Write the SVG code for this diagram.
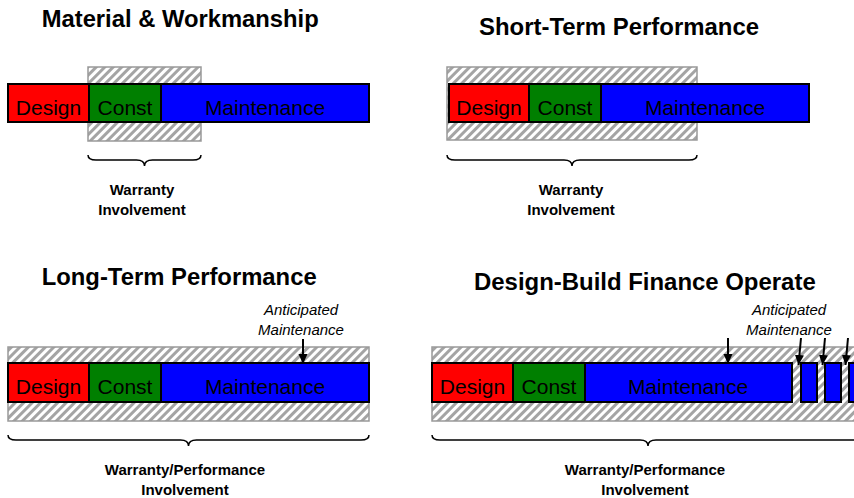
<svg xmlns="http://www.w3.org/2000/svg" width="854" height="498" viewBox="0 0 854 498">
<style>
.title{font-family:"Liberation Sans",Arial,sans-serif;font-weight:bold;font-size:23.5px;fill:#000}
.lbl{font-family:"Liberation Sans",Arial,sans-serif;font-size:21px;fill:#000;text-anchor:middle}
.inv{font-family:"Liberation Sans",Arial,sans-serif;font-weight:bold;font-size:15px;fill:#000;text-anchor:middle}
.ant{font-family:"Liberation Sans",Arial,sans-serif;font-style:italic;font-size:15px;fill:#000;text-anchor:middle}
.hatch{fill:url(#hatch);stroke:#999;stroke-width:1.5}
.bar{stroke:#000;stroke-width:2}
.d{fill:#ff0000}.c{fill:#007f00}.m{fill:#0000ff}
.brace{fill:none;stroke:#000;stroke-width:1.5}
.arr{stroke:#000;stroke-width:2;fill:none;marker-end:url(#ah)}
</style>
<defs>
<pattern id="hatch" patternUnits="userSpaceOnUse" width="6" height="6" patternTransform="rotate(45)">
<rect width="6" height="6" fill="#fff"/>
<line x1="1.5" y1="0" x2="1.5" y2="6" stroke="#a4a4a4" stroke-width="3"/>
</pattern>
<marker id="ah" markerUnits="userSpaceOnUse" markerWidth="11" markerHeight="10" refX="10" refY="4.5" orient="auto">
<path d="M0,0 L10,4.5 L0,9 Z" fill="#000"/>
</marker>
</defs>

<g id="panel1">
<text class="title" x="41.7" y="26.5" textLength="277" lengthAdjust="spacingAndGlyphs">Material &amp; Workmanship</text>
<rect class="hatch" x="88" y="67" width="113" height="74"/>
<g id="p1-design"><rect class="bar d" x="8" y="84" width="81" height="38"/><text class="lbl" x="48.5" y="115">Design</text></g>
<g id="p1-const"><rect class="bar c" x="89" y="84" width="72" height="38"/><text class="lbl" x="125" y="115">Const</text></g>
<g id="p1-maint"><rect class="bar m" x="161" y="84" width="208" height="38"/><text class="lbl" x="265" y="115">Maintenance</text></g>
<path class="brace" d="M88,155 Q88,160 96,160 L136.5,160 Q144.5,160 144.5,166 Q144.5,160 152.5,160 L193,160 Q201,160 201,155"/>
<text class="inv" x="142" y="194.5">Warranty</text>
<text class="inv" x="142" y="215">Involvement</text>
</g>

<g id="panel2">
<text class="title" x="479" y="35" textLength="280" lengthAdjust="spacingAndGlyphs">Short-Term Performance</text>
<rect class="hatch" x="447" y="67" width="250" height="73"/>
<g id="p2-design"><rect class="bar d" x="449" y="84" width="80" height="38"/><text class="lbl" x="489" y="115">Design</text></g>
<g id="p2-const"><rect class="bar c" x="529" y="84" width="72" height="38"/><text class="lbl" x="565" y="115">Const</text></g>
<g id="p2-maint"><rect class="bar m" x="601" y="84" width="208" height="38"/><text class="lbl" x="705" y="115">Maintenance</text></g>
<path class="brace" d="M447,155 Q447,160 455,160 L564,160 Q572,160 572,166 Q572,160 580,160 L689,160 Q697,160 697,155"/>
<text class="inv" x="571" y="194.5">Warranty</text>
<text class="inv" x="571" y="215">Involvement</text>
</g>

<g id="panel3">
<text class="title" x="41.7" y="285" textLength="275" lengthAdjust="spacingAndGlyphs">Long-Term Performance</text>
<rect class="hatch" x="8" y="347" width="361" height="74"/>
<g id="p3-design"><rect class="bar d" x="8" y="363" width="81" height="39"/><text class="lbl" x="48.5" y="394">Design</text></g>
<g id="p3-const"><rect class="bar c" x="89" y="363" width="72" height="39"/><text class="lbl" x="125" y="394">Const</text></g>
<g id="p3-maint"><rect class="bar m" x="161" y="363" width="208" height="39"/><text class="lbl" x="265" y="394">Maintenance</text></g>
<text class="ant" x="301" y="315">Anticipated</text>
<text class="ant" x="301" y="334.5">Maintenance</text>
<path class="brace" d="M8,435 Q8,440 16,440 L180.5,440 Q188.5,440 188.5,446 Q188.5,440 196.5,440 L361,440 Q369,440 369,435"/>
<text class="inv" x="185" y="475">Warranty/Performance</text>
<text class="inv" x="185" y="494.5">Involvement</text>
</g>

<g id="panel4">
<text class="title" x="474" y="290" textLength="341.7" lengthAdjust="spacingAndGlyphs">Design-Build Finance Operate</text>
<rect class="hatch" x="432" y="347" width="440" height="74"/>
<g id="p4-design"><rect class="bar d" x="432" y="363" width="81" height="39"/><text class="lbl" x="472.5" y="394">Design</text></g>
<g id="p4-const"><rect class="bar c" x="513" y="363" width="72" height="39"/><text class="lbl" x="549" y="394">Const</text></g>
<g id="p4-maint"><rect class="bar m" x="585" y="363" width="207" height="39"/><text class="lbl" x="688" y="394">Maintenance</text></g>
<g id="p4-m2"><rect class="bar m" x="801" y="363" width="16" height="39"/></g>
<g id="p4-m3"><rect class="bar m" x="825" y="363" width="16" height="39"/></g>
<g id="p4-m4"><rect class="bar m" x="849" y="363" width="16" height="39"/></g>
<text class="ant" x="789" y="315">Anticipated</text>
<text class="ant" x="789" y="334.5">Maintenance</text>
<path class="brace" d="M432,435 Q432,440 440,440 L640,440 Q648,440 648,446 Q648,440 656,440 L856,440 Q864,440 864,435"/>
<text class="inv" x="645" y="475">Warranty/Performance</text>
<text class="inv" x="645" y="494.5">Involvement</text>
</g>

<g id="connectors">
<line class="arr" x1="303" y1="339" x2="303" y2="364"/>
<line class="arr" x1="728" y1="338" x2="728" y2="364"/>
<line class="arr" x1="801" y1="338" x2="798.5" y2="365"/>
<line class="arr" x1="825" y1="338" x2="822.5" y2="365"/>
<line class="arr" x1="848" y1="338" x2="845.5" y2="365"/>
</g>
</svg>
